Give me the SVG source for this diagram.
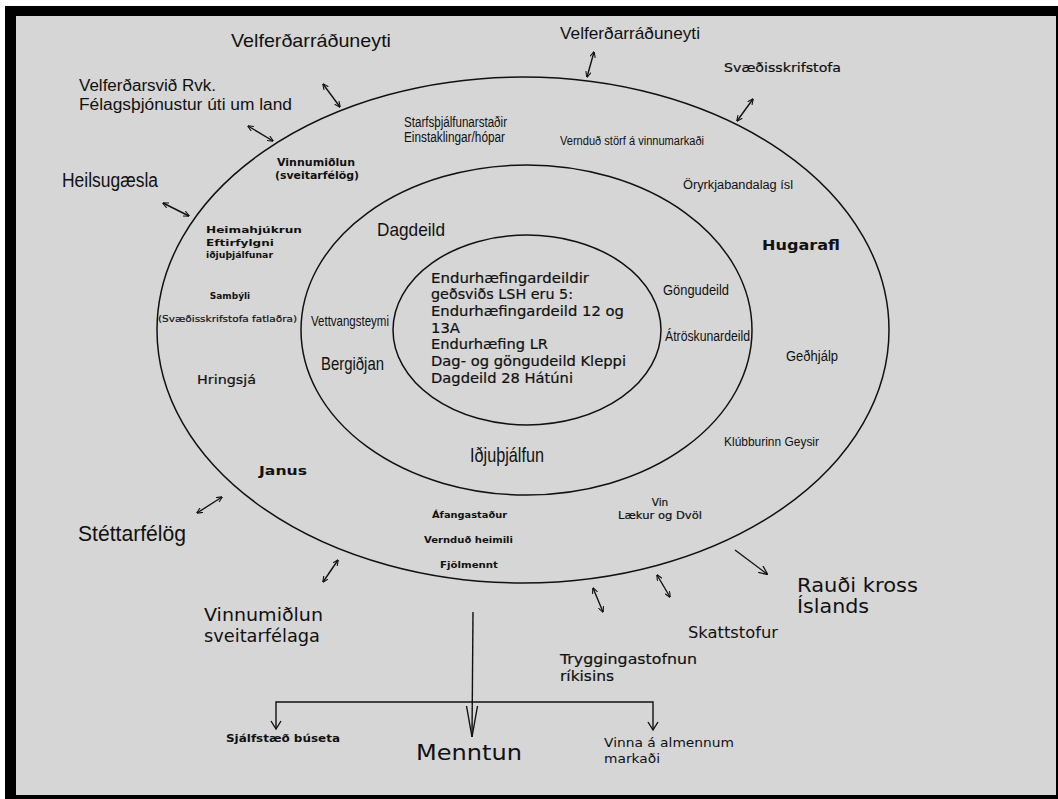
<svg xmlns="http://www.w3.org/2000/svg" width="1058" height="799" viewBox="0 0 1058 799">
<style>
.c{font-family:"Liberation Sans",Arial,sans-serif;fill:#111}
.v{font-family:"DejaVu Sans",Verdana,sans-serif;fill:#111}
.b{font-weight:bold}
.m{stroke:#111;stroke-width:0.2}
.ring{fill:none;stroke:#111;stroke-width:1.5}
.ln{fill:none;stroke:#111;stroke-width:1.4}
</style>
<defs>
<marker id="ah" viewBox="0 0 10 10" refX="9" refY="5" markerWidth="6" markerHeight="6" markerUnits="userSpaceOnUse" orient="auto-start-reverse">
<path d="M0,0.5 L10,5 L0,9.5" fill="none" stroke="#111" stroke-width="1.8"/>
</marker>
<marker id="ah2" viewBox="0 0 10 10" refX="9" refY="5" markerWidth="9" markerHeight="9" markerUnits="userSpaceOnUse" orient="auto">
<path d="M0,0.5 L10,5 L0,9.5" fill="none" stroke="#111" stroke-width="1.4"/>
</marker>
</defs>
<rect x="0" y="0" width="1058" height="799" fill="#fff"/>
<rect x="5" y="6" width="1053" height="793" fill="#000"/>
<rect x="16" y="16" width="1040" height="779" fill="#d6d6d6"/>

<g id="rings">
<ellipse id="ring-outer" class="ring" cx="523" cy="330" rx="366" ry="253"/>
<ellipse id="ring-middle" class="ring" cx="526.5" cy="330" rx="225.5" ry="165"/>
<ellipse id="ring-inner" class="ring" cx="527" cy="330" rx="134" ry="95"/>
</g>

<g id="connectors">
<line class="ln" x1="323" y1="84" x2="340" y2="107" marker-start="url(#ah)" marker-end="url(#ah)"/>
<line class="ln" x1="248" y1="126" x2="273" y2="141" marker-start="url(#ah)" marker-end="url(#ah)"/>
<line class="ln" x1="163" y1="203" x2="189" y2="216" marker-start="url(#ah)" marker-end="url(#ah)"/>
<line class="ln" x1="594" y1="52" x2="587" y2="77" marker-start="url(#ah)" marker-end="url(#ah)"/>
<line class="ln" x1="753" y1="99" x2="737" y2="121" marker-start="url(#ah)" marker-end="url(#ah)"/>
<line class="ln" x1="197" y1="513" x2="222" y2="497" marker-start="url(#ah)" marker-end="url(#ah)"/>
<line class="ln" x1="323" y1="582" x2="338" y2="560" marker-start="url(#ah)" marker-end="url(#ah)"/>
<line class="ln" x1="593" y1="588" x2="603" y2="612" marker-start="url(#ah)" marker-end="url(#ah)"/>
<line class="ln" x1="657" y1="575" x2="670" y2="597" marker-start="url(#ah)" marker-end="url(#ah)"/>
<line class="ln" x1="735" y1="550" x2="767" y2="574" marker-end="url(#ah2)"/>
<line class="ln" x1="473" y1="612" x2="472" y2="737"/>
<polyline class="ln" points="466.5,706 472,737 477.5,706"/>
<polyline class="ln" points="276,729 276,702 653,702 653,730"/>
<polyline class="ln" points="271,721 276,729 281,721"/>
<polyline class="ln" points="648,722 653,730 658,722"/>
</g>

<g id="n-velferdarraduneyti-1"><text class="c" x="231" y="47" font-size="19" textLength="160" lengthAdjust="spacingAndGlyphs">Velferðarráðuneyti</text></g>
<g id="n-velferdarsvid"><text class="c" x="79" y="91" font-size="16" textLength="137" lengthAdjust="spacingAndGlyphs">Velferðarsvið Rvk.</text><text class="c" x="79" y="110" font-size="16" textLength="213" lengthAdjust="spacingAndGlyphs">Félagsþjónustur úti um land</text></g>
<g id="n-heilsugaesla"><text class="c" x="62" y="187" font-size="20" textLength="96" lengthAdjust="spacingAndGlyphs">Heilsugæsla</text></g>
<g id="n-velferdarraduneyti-2"><text class="c" x="560" y="39" font-size="17" textLength="140" lengthAdjust="spacingAndGlyphs">Velferðarráðuneyti</text></g>
<g id="n-svaedisskrifstofa"><text class="v m" x="724" y="72" font-size="12.5" textLength="117" lengthAdjust="spacingAndGlyphs">Svæðisskrifstofa</text></g>
<g id="n-starfsthjalfun"><text class="c" x="404" y="127" font-size="14" textLength="103" lengthAdjust="spacingAndGlyphs">Starfsþjálfunarstaðir</text><text class="c" x="404" y="142" font-size="14" textLength="101" lengthAdjust="spacingAndGlyphs">Einstaklingar/hópar</text></g>
<g id="n-verndud-storf"><text class="c" x="560" y="145" font-size="12.5" textLength="144" lengthAdjust="spacingAndGlyphs">Vernduð störf á vinnumarkaði</text></g>
<g id="n-vinnumidlun-sveit"><text class="v b" x="277" y="166" font-size="10" textLength="78" lengthAdjust="spacingAndGlyphs">Vinnumiðlun</text><text class="v b" x="275" y="179" font-size="10" textLength="84" lengthAdjust="spacingAndGlyphs">(sveitarfélög)</text></g>
<g id="n-heimahjukrun"><text class="v b" x="206" y="233" font-size="9.5" textLength="96" lengthAdjust="spacingAndGlyphs">Heimahjúkrun</text><text class="v b" x="206" y="246" font-size="9.5" textLength="68" lengthAdjust="spacingAndGlyphs">Eftirfylgni</text><text class="v b" x="206" y="258" font-size="9.5" textLength="67" lengthAdjust="spacingAndGlyphs">iðjuþjálfunar</text></g>
<g id="n-dagdeild"><text class="c" x="377" y="236" font-size="19" textLength="68" lengthAdjust="spacingAndGlyphs">Dagdeild</text></g>
<g id="n-oryrkjabandalag"><text class="c" x="683" y="189" font-size="12.5" textLength="110" lengthAdjust="spacingAndGlyphs">Öryrkjabandalag ísl</text></g>
<g id="n-hugarafl"><text class="v b" x="762" y="250" font-size="14" textLength="78" lengthAdjust="spacingAndGlyphs">Hugarafl</text></g>
<g id="n-sambyli"><text class="v b" x="230" y="299" font-size="9" text-anchor="middle">Sambýli</text><text class="v m" x="158" y="322" font-size="9.5" textLength="139" lengthAdjust="spacingAndGlyphs">(Svæðisskrifstofa fatlaðra)</text></g>
<g id="n-vettvangsteymi"><text class="c" x="311" y="326" font-size="15" textLength="78" lengthAdjust="spacingAndGlyphs">Vettvangsteymi</text></g>
<g id="n-bergidjan"><text class="c" x="321" y="370" font-size="19" textLength="63" lengthAdjust="spacingAndGlyphs">Bergiðjan</text></g>
<g id="n-hringsja"><text class="v m" x="197" y="384" font-size="12" textLength="59" lengthAdjust="spacingAndGlyphs">Hringsjá</text></g>
<g id="n-janus"><text class="v b" x="259" y="475" font-size="12.5" textLength="48" lengthAdjust="spacingAndGlyphs">Janus</text></g>
<g id="n-endurhaefing" class="v m" font-size="13.5">
<text x="431" y="283" textLength="158" lengthAdjust="spacingAndGlyphs">Endurhæfingardeildir</text>
<text x="431" y="299" textLength="142" lengthAdjust="spacingAndGlyphs">geðsviðs LSH eru 5:</text>
<text x="431" y="316" textLength="193" lengthAdjust="spacingAndGlyphs">Endurhæfingardeild 12 og</text>
<text x="431" y="333" textLength="29" lengthAdjust="spacingAndGlyphs">13A</text>
<text x="431" y="349" textLength="117" lengthAdjust="spacingAndGlyphs">Endurhæfing LR</text>
<text x="431" y="366" textLength="195" lengthAdjust="spacingAndGlyphs">Dag- og göngudeild Kleppi</text>
<text x="431" y="383" textLength="142" lengthAdjust="spacingAndGlyphs">Dagdeild 28 Hátúni</text>
</g>
<g id="n-idjuthjalfun"><text class="c" x="470" y="462" font-size="21" textLength="74" lengthAdjust="spacingAndGlyphs">Iðjuþjálfun</text></g>
<g id="n-gongudeild"><text class="c" x="663" y="295" font-size="14" textLength="66" lengthAdjust="spacingAndGlyphs">Göngudeild</text></g>
<g id="n-atroskunardeild"><text class="c" x="665" y="341" font-size="14" textLength="85" lengthAdjust="spacingAndGlyphs">Átröskunardeild</text></g>
<g id="n-gedhjalp"><text class="c" x="786" y="361" font-size="14" textLength="52" lengthAdjust="spacingAndGlyphs">Geðhjálp</text></g>
<g id="n-klubburinn"><text class="c" x="724" y="446" font-size="13" textLength="95" lengthAdjust="spacingAndGlyphs">Klúbburinn Geysir</text></g>
<g id="n-vin"><text class="v m" x="660" y="506" font-size="10.5" text-anchor="middle">Vin</text><text class="v m" x="618" y="519" font-size="10.5" textLength="84" lengthAdjust="spacingAndGlyphs">Lækur og Dvöl</text></g>
<g id="n-afangastadur" class="v b" font-size="9.5">
<text x="432" y="518" textLength="75" lengthAdjust="spacingAndGlyphs">Áfangastaður</text>
<text x="424" y="543" textLength="89" lengthAdjust="spacingAndGlyphs">Vernduð heimili</text>
<text x="440" y="568" textLength="58" lengthAdjust="spacingAndGlyphs">Fjölmennt</text>
</g>
<g id="n-stettarfelog"><text class="c" x="78" y="541" font-size="22" textLength="108" lengthAdjust="spacingAndGlyphs">Stéttarfélög</text></g>
<g id="n-vinnumidlun"><text class="v" x="204" y="621" font-size="18" textLength="119" lengthAdjust="spacingAndGlyphs">Vinnumiðlun</text><text class="v" x="204" y="642" font-size="18" textLength="116" lengthAdjust="spacingAndGlyphs">sveitarfélaga</text></g>
<g id="n-raudi-kross"><text class="v" x="797" y="592" font-size="19" textLength="121" lengthAdjust="spacingAndGlyphs">Rauði kross</text><text class="v" x="797" y="613" font-size="19" textLength="72" lengthAdjust="spacingAndGlyphs">Íslands</text></g>
<g id="n-skattstofur"><text class="v" x="688" y="638" font-size="15.5" textLength="90" lengthAdjust="spacingAndGlyphs">Skattstofur</text></g>
<g id="n-tryggingastofnun"><text class="v m" x="560" y="664" font-size="14" textLength="137" lengthAdjust="spacingAndGlyphs">Tryggingastofnun</text><text class="v m" x="560" y="681" font-size="14" textLength="54" lengthAdjust="spacingAndGlyphs">ríkisins</text></g>
<g id="n-sjalfstaed"><text class="v b" x="226" y="742" font-size="11" textLength="114" lengthAdjust="spacingAndGlyphs">Sjálfstæð búseta</text></g>
<g id="n-menntun"><text class="v" x="416" y="760" font-size="21" textLength="106" lengthAdjust="spacingAndGlyphs">Menntun</text></g>
<g id="n-vinna"><text class="v" x="604" y="747" font-size="13" textLength="130" lengthAdjust="spacingAndGlyphs">Vinna á almennum</text><text class="v" x="604" y="763" font-size="13" textLength="56" lengthAdjust="spacingAndGlyphs">markaði</text></g>
</svg>
